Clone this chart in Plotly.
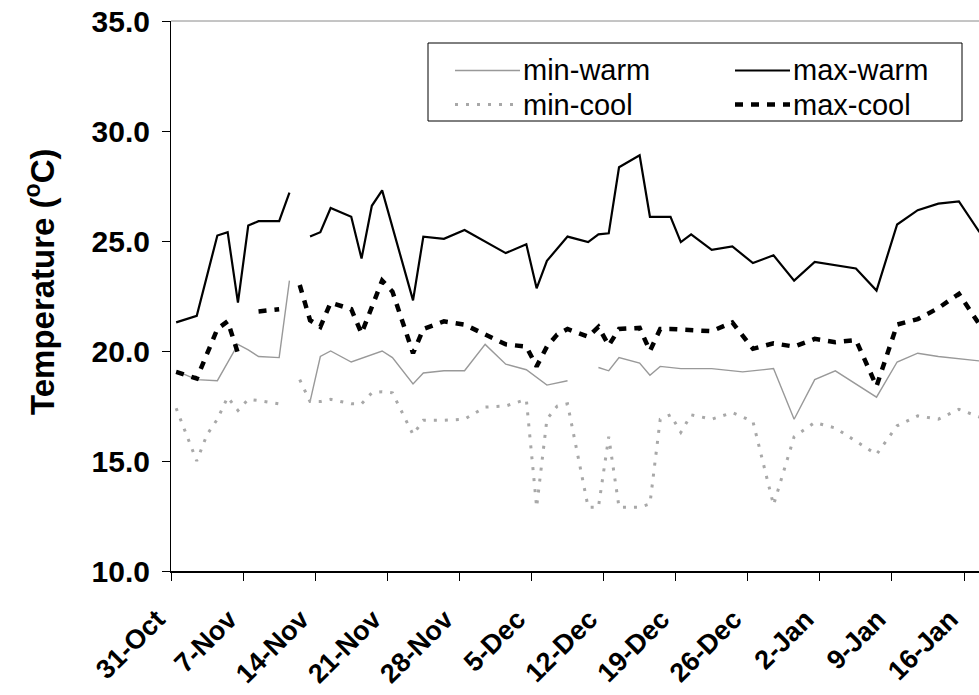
import datetime as dt
import plotly.graph_objects as go

START = dt.datetime(2002, 10, 31)

# Day offsets from 31-Oct and temperatures (°C); None marks missing readings
min_warm_day = [0, 2, 4, 6, 7, 8, 10, 11, 12, 13, 14, 15, 17, 20, 21, 23, 24, 26, 28, 30,
                32, 34, 35, 36, 38, 39, 41, 42, 43, 45, 46, 47, 49, 52, 55, 58, 60, 62,
                64, 68, 70, 72, 74, 76, 78]
min_warm = [19.1, 18.7, 18.65, 20.3, 20.05, 19.75, 19.7, 23.2, None, 17.7, 19.75, 20.0,
            19.5, 20.0, 19.7, 18.5, 19.0, 19.1, 19.1, 20.3, 19.4, 19.15, 18.8, 18.45,
            18.65, None, 19.25, 19.1, 19.7, 19.45, 18.9, 19.3, 19.2, 19.2, 19.05, 19.2,
            16.9, 18.7, 19.1, 17.9, 19.5, 19.9, 19.75, 19.65, 19.55]

max_warm_day = [0, 2, 4, 5, 6, 7, 8, 10, 11, 12, 13, 14, 15, 17, 18, 19, 20, 23, 24, 26,
                28, 32, 34, 35, 36, 38, 40, 41, 42, 43, 45, 46, 48, 49, 50, 52, 54, 56,
                58, 60, 62, 66, 68, 70, 72, 74, 76, 78]
max_warm = [21.3, 21.6, 25.25, 25.4, 22.2, 25.7, 25.9, 25.9, 27.2, None, 25.2, 25.4,
            26.5, 26.1, 24.2, 26.6, 27.3, 22.3, 25.2, 25.1, 25.5, 24.45, 24.85, 22.85,
            24.1, 25.2, 24.95, 25.3, 25.35, 28.35, 28.9, 26.1, 26.1, 24.95, 25.3, 24.6,
            24.75, 24.0, 24.35, 23.2, 24.05, 23.75, 22.75, 25.75, 26.4, 26.7, 26.8, 25.4]

min_cool_day = [0, 2, 3, 4, 5, 6, 7, 8, 10, 11, 12, 13, 14, 15, 17, 18, 19, 20, 21, 23,
                24, 26, 28, 30, 32, 34, 35, 36, 37, 38, 40, 41, 42, 43, 44, 45, 46, 47,
                48, 49, 50, 52, 54, 56, 58, 60, 62, 64, 66, 68, 70, 72, 74, 76, 78]
min_cool = [17.4, 15.0, 16.2, 16.9, 17.9, 17.3, 17.8, 17.75, 17.6, None, 18.7, 17.7,
            17.7, 17.8, 17.6, 17.6, 18.1, 18.15, 18.1, 16.2, 16.85, 16.85, 16.9, 17.45,
            17.5, 17.8, 12.9, 16.9, 17.5, 17.6, 12.9, 12.9, 16.1, 12.9, 12.9, 12.9,
            13.05, 16.9, 17.1, 16.3, 17.1, 16.9, 17.2, 16.8, 13.0, 16.1, 16.75, 16.5,
            15.9, 15.3, 16.6, 17.05, 16.9, 17.35, 17.0]

max_cool_day = [0, 2, 4, 5, 6, 7, 8, 10, 11, 12, 13, 14, 15, 17, 18, 19, 20, 21, 23, 24,
                26, 28, 30, 32, 34, 35, 36, 37, 38, 40, 41, 42, 43, 45, 46, 47, 48, 50,
                52, 54, 56, 58, 60, 62, 64, 66, 68, 70, 72, 74, 76, 78]
max_cool = [19.05, 18.75, 21.0, 21.35, 19.9, None, 21.8, 21.9, None, 23.0, 21.4, 21.1,
            22.2, 21.9, 20.8, 22.0, 23.2, 22.7, 19.9, 21.0, 21.35, 21.2, 20.75, 20.3,
            20.2, 19.3, 20.2, 20.75, 21.0, 20.65, 21.1, 20.25, 21.0, 21.05, 20.0, 21.0,
            21.0, 20.95, 20.9, 21.3, 20.1, 20.35, 20.2, 20.55, 20.4, 20.5, 18.4, 21.2,
            21.45, 21.95, 22.6, 21.2]

tick_labels = ["31-Oct", "7-Nov", "14-Nov", "21-Nov", "28-Nov", "5-Dec", "12-Dec",
               "19-Dec", "26-Dec", "2-Jan", "9-Jan", "16-Jan"]
y_ticks = [10, 15, 20, 25, 30, 35]

FONT = "Liberation Sans, Arial, sans-serif"
W, H = 979, 695
ML, MR, MT, MB = 171, 0, 21, 124
PW, PH = W - ML - MR, H - MT - MB


def to_dates(days):
    # each reading sits mid-day, between the daily tick marks
    return [START + dt.timedelta(days=d, hours=12) for d in days]


def px_x(px):
    return (px - ML) / PW


def px_y(py):
    return (H - MB - py) / PH


series = [
    ("min-warm", min_warm_day, min_warm, dict(color="#999999", width=1.4)),
    ("max-warm", max_warm_day, max_warm, dict(color="black", width=2.2)),
    ("min-cool", min_cool_day, min_cool, dict(color="#a8a8a8", width=3, dash="3px,8px")),
    ("max-cool", max_cool_day, max_cool, dict(color="black", width=4.5, dash="8px,8px")),
]

fig = go.Figure()
for name, days, vals, line in series:
    fig.add_trace(go.Scatter(x=to_dates(days), y=vals, mode="lines", name=name,
                             line=line, connectgaps=False, showlegend=False))

tick_dates = [START + dt.timedelta(days=7 * i) for i in range(len(tick_labels))]

fig.update_layout(
    width=W, height=H,
    margin=dict(l=ML, r=MR, t=MT, b=MB, autoexpand=False),
    paper_bgcolor="white", plot_bgcolor="white",
    font=dict(family=FONT, color="black"),
    xaxis=dict(
        type="date",
        range=[START, START + dt.timedelta(days=78.45)],
        tickvals=tick_dates, ticktext=tick_labels, tickangle=-45,
        ticks="outside", ticklen=8, tickcolor="black", tickwidth=1,
        ticklabelstandoff=12, ticklabelshift=-14,
        showline=True, linecolor="black", linewidth=1.5,
        showgrid=False, zeroline=False,
        tickfont=dict(family=FONT, size=27, color="black", weight="bold"),
    ),
    yaxis=dict(
        range=[10, 35], tickvals=y_ticks, tickformat=".1f",
        ticks="outside", ticklen=8, tickcolor="black", tickwidth=1,
        ticklabelstandoff=6,
        showline=True, linecolor="black", linewidth=1,
        showgrid=False, zeroline=False,
        tickfont=dict(family=FONT, size=30, color="black", weight="bold"),
    ),
)

# y-axis title
fig.add_annotation(xref="paper", yref="paper", x=px_x(40), y=px_y(282),
                   text="Temperature (<sup>o</sup>C)", textangle=-90, showarrow=False,
                   xanchor="center", yanchor="middle",
                   font=dict(family=FONT, size=33, color="black", weight="bold"))

# plot-area top border
fig.add_shape(type="line", xref="paper", yref="paper", x0=0, x1=1, y0=1, y1=1,
              line=dict(color="#8a8a8a", width=1))

# legend box with two columns of entries
fig.add_shape(type="rect", xref="paper", yref="paper",
              x0=px_x(428), x1=px_x(962), y0=px_y(121), y1=px_y(43),
              line=dict(color="black", width=1), fillcolor="white", layer="above")

legend_slots = [(455, 520, 70.5), (735, 790, 70.5), (455, 520, 104.5), (735, 790, 104.5)]
for (name, _, _, line), (sx0, sx1, sy) in zip(series, legend_slots):
    fig.add_shape(type="line", xref="paper", yref="paper",
                  x0=px_x(sx0), x1=px_x(sx1), y0=px_y(sy), y1=px_y(sy),
                  line=line, layer="above")
    fig.add_annotation(xref="paper", yref="paper", x=px_x(sx1 + 1), y=px_y(sy),
                       text=name, showarrow=False, xanchor="left", yanchor="middle",
                       font=dict(family=FONT, size=29, color="black"))

fig.write_html("out.html")
